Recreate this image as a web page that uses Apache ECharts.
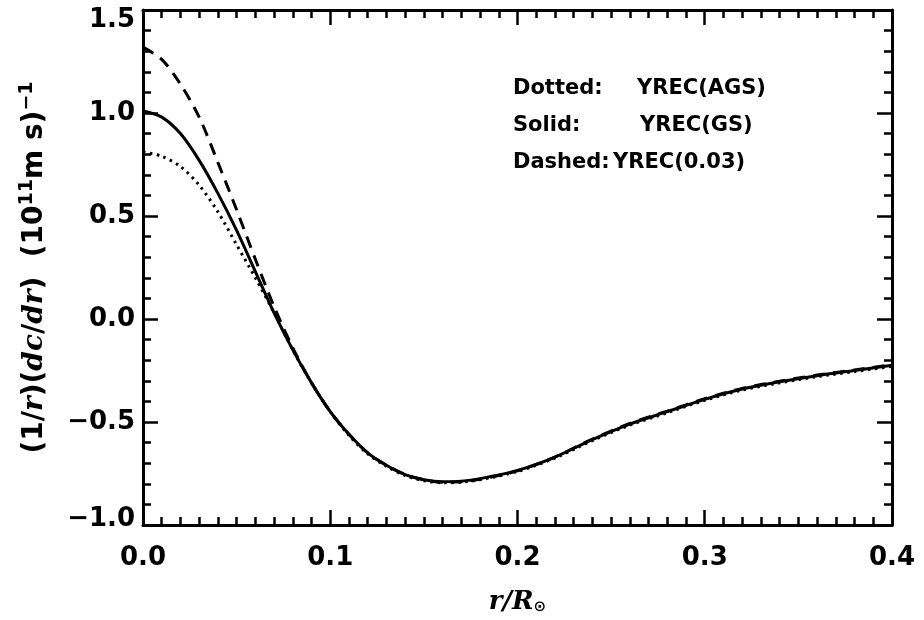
<!DOCTYPE html>
<html>
<head>
<meta charset="utf-8">
<script src="https://cdn.jsdelivr.net/npm/echarts@6/dist/echarts.min.js"></script>
<style>html,body{margin:0;padding:0;background:#fff}#c{width:924px;height:620px}</style>
</head>
<body>
<div id="c"></div>
<script>
// r / R_sun
const radius = [0, 0.01, 0.02, 0.03, 0.04, 0.05, 0.06, 0.07, 0.08, 0.09, 0.10, 0.11, 0.12, 0.13, 0.14, 0.15, 0.16, 0.17, 0.18, 0.20, 0.22, 0.24, 0.26, 0.28, 0.30, 0.32, 0.34, 0.36, 0.38, 0.40];
// Dotted: YREC(AGS)
const dottedAGS = [0.81, 0.79, 0.74, 0.65, 0.52, 0.36, 0.20, 0.03, -0.15, -0.31, -0.45, -0.565, -0.655, -0.715, -0.76, -0.785, -0.795, -0.792, -0.78, -0.74, -0.675, -0.59, -0.515, -0.455, -0.395, -0.345, -0.31, -0.28, -0.255, -0.23];
// Solid: YREC(GS)
const solidGS = [1.01, 0.98, 0.90, 0.77, 0.61, 0.43, 0.23, 0.03, -0.15, -0.31, -0.45, -0.56, -0.65, -0.71, -0.755, -0.78, -0.79, -0.787, -0.775, -0.735, -0.67, -0.585, -0.51, -0.45, -0.39, -0.34, -0.305, -0.275, -0.25, -0.225];
// Dashed: YREC(0.03)
const dashed003 = [1.32, 1.26, 1.14, 0.98, 0.76, 0.53, 0.29, 0.06, -0.14, -0.31, -0.45, -0.56, -0.65, -0.71, -0.755, -0.78, -0.792, -0.79, -0.778, -0.737, -0.67, -0.583, -0.507, -0.447, -0.387, -0.337, -0.302, -0.272, -0.247, -0.222];

const legendLabels = ['Dotted:', 'Solid:', 'Dashed:'];
const legendModels = ['YREC(AGS)', 'YREC(GS)', 'YREC(0.03)'];

const pairs = ys => radius.map((x, i) => [x, ys[i]]);
const num = v => (v < 0 ? '\u2212' : '') + Math.abs(v).toFixed(1);
const FONT = 'DejaVu Sans';

const axisCommon = {
  type: 'value',
  axisLine: { show: true, onZero: false, lineStyle: { color: '#000', width: 3 } },
  axisTick: { show: true, inside: true, length: 15, lineStyle: { color: '#000', width: 2.5 } },
  minorTick: { show: true, length: 8, lineStyle: { color: '#000', width: 2.5 } },
  splitLine: { show: false },
  minorSplitLine: { show: false }
};

const chart = echarts.init(document.getElementById('c'), null, { renderer: 'canvas' });
const lineBase = { type: 'line', showSymbol: false, smooth: 0.3, silent: true, animation: false, z: 1 };

chart.setOption({
  animation: false,
  backgroundColor: '#fff',
  grid: { left: 143, right: 32, top: 10, bottom: 82, containLabel: false },
  xAxis: [
    Object.assign({}, axisCommon, {
      min: 0, max: 0.4, interval: 0.1, position: 'bottom',
      minorTick: Object.assign({}, axisCommon.minorTick, { splitNumber: 10 }),
      axisLabel: { formatter: num, color: '#000', fontFamily: FONT, fontWeight: 'bold', fontSize: 26, margin: 20 },
      name: '{i|r/R}{s|\u2299}', nameLocation: 'middle', nameGap: 64,
      nameTextStyle: {
        color: '#000',
        rich: {
          i: { fontFamily: 'DejaVu Serif', fontStyle: 'italic', fontWeight: 'bold', fontSize: 26, color: '#000' },
          s: { fontFamily: FONT, fontWeight: 'bold', fontSize: 15, color: '#000', verticalAlign: 'bottom', padding: [10, 0, 0, 0] }
        }
      }
    }),
    Object.assign({}, axisCommon, {
      min: 0, max: 0.4, interval: 0.1, position: 'top',
      minorTick: Object.assign({}, axisCommon.minorTick, { splitNumber: 10 }),
      axisLabel: { show: false }
    })
  ],
  yAxis: [
    Object.assign({}, axisCommon, {
      min: -1.0, max: 1.5, interval: 0.5, position: 'left',
      minorTick: Object.assign({}, axisCommon.minorTick, { splitNumber: 5 }),
      axisLabel: {
        formatter: v => v >= 1.5 ? '{hi|' + num(v) + '}' : (v <= -1.0 ? '{lo|' + num(v) + '}' : num(v)),
        color: '#000', fontFamily: FONT, fontWeight: 'bold', fontSize: 26, margin: 8,
        rich: {
          hi: { fontFamily: FONT, fontWeight: 'bold', fontSize: 26, color: '#000', padding: [20, 0, 0, 0] },
          lo: { fontFamily: FONT, fontWeight: 'bold', fontSize: 26, color: '#000', padding: [0, 0, 12, 0] }
        }
      },
      name: '(1/{i|r})({i|dc}/{i|dr})  (10{sup|11}m s){sup|\u22121}', nameLocation: 'middle', nameGap: 92,
      nameTextStyle: {
        color: '#000', fontFamily: FONT, fontWeight: 'bold', fontSize: 28,
        rich: {
          i: { fontFamily: 'DejaVu Serif', fontStyle: 'italic', fontWeight: 'bold', fontSize: 28, color: '#000' },
          sup: { fontFamily: FONT, fontWeight: 'bold', fontSize: 19, color: '#000', verticalAlign: 'top', padding: [0, 0, 14, 0] }
        }
      }
    }),
    Object.assign({}, axisCommon, {
      min: -1.0, max: 1.5, interval: 0.5, position: 'right',
      minorTick: Object.assign({}, axisCommon.minorTick, { splitNumber: 5 }),
      axisLabel: { show: false }
    })
  ],
  graphic: legendLabels.map((lab, i) => ({
    type: 'group', left: 513, top: 78 + i * 37, silent: true,
    children: [
      { type: 'text', x: 0, y: 0, style: { text: lab, fill: '#000', font: 'bold 21px "DejaVu Sans"' } },
      { type: 'text', x: i === 2 ? 100 : (i === 0 ? 124 : 127), y: 0, style: { text: legendModels[i], fill: '#000', font: 'bold 21px "DejaVu Sans"' } }
    ]
  })),
  series: [
    Object.assign({}, lineBase, { name: 'YREC(AGS)', data: pairs(dottedAGS), lineStyle: { color: '#000', width: 3, type: [2.5, 4.5] } }),
    Object.assign({}, lineBase, { name: 'YREC(GS)', data: pairs(solidGS), lineStyle: { color: '#000', width: 3, type: 'solid' } }),
    Object.assign({}, lineBase, { name: 'YREC(0.03)', data: pairs(dashed003), lineStyle: { color: '#000', width: 3, type: [12, 8] } })
  ]
});
</script>
</body>
</html>
